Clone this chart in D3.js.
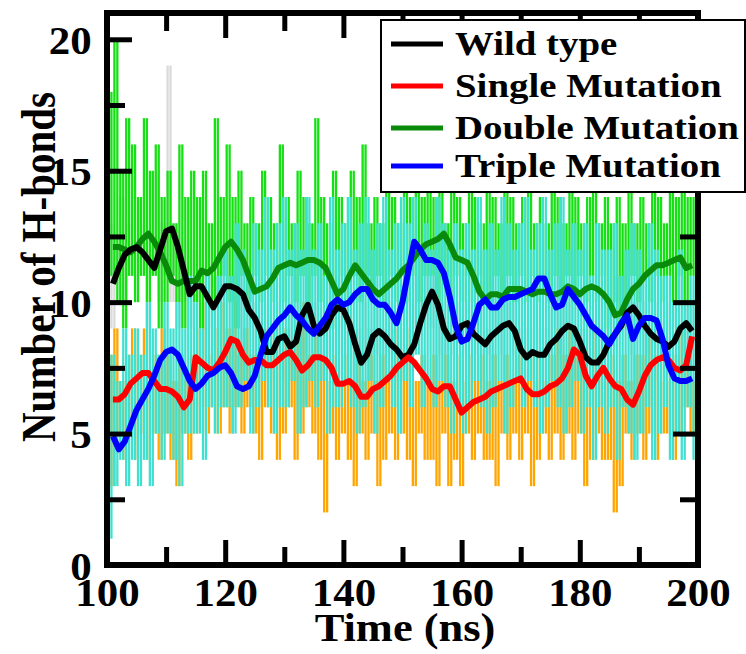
<!DOCTYPE html>
<html>
<head>
<meta charset="utf-8">
<script src="https://cdnjs.cloudflare.com/ajax/libs/d3/7.8.5/d3.min.js"></script>
<style>
  body { margin: 0; background: #fff; }
  text { font-family: "Liberation Serif", "Times New Roman", serif; font-weight: bold; fill: #000; }
</style>
</head>
<body>
<div id="chart"></div>
<script>
const W = 746, H = 654;

// axis ticks
const xMajor = [100, 120, 140, 160, 180, 200];
const xMinor = [110, 130, 150, 170, 190];
const yMajor = [0, 5, 10, 15, 20];
const yMinor = [2.5, 7.5, 12.5, 17.5];

const seriesNames = ["Wild type", "Single Mutation", "Double Mutation", "Triple Mutation"];

// raw H-bond counts, one sample every 0.5 ns starting at 100 ns
const rawStart = 100, rawStep = 0.5;
const rawWild = [
  10,13,9,12,11,14,10,13,11,12, 10,14,11,13,9,12,11,15,10,13,
  11,19,10,13,9,12,10,11,9,12, 10,12,9,11,10,13,9,11,10,12,
  9,12,10,11,9,12,8,11,9,10, 8,10,7,9,8,10,7,9,8,10,
  7,9,8,10,7,11,8,10,9,11, 8,10,7,9,8,11,9,10,8,11,
  9,10,7,9,6,9,7,10,8,9, 7,10,8,9,7,10,8,9,7,9,
  7,9,8,10,9,11,9,12,10,11, 9,11,8,10,7,9,8,10,9,10,
  8,10,9,10,7,9,8,10,7,9, 8,10,9,11,8,10,9,10,8,9,
  7,9,8,9,7,10,8,9,7,9, 8,10,9,11,8,10,9,10,8,9,
  7,9,8,9,7,9,8,10,7,9, 8,10,9,11,10,11,9,10,8,10,
  9,10,8,9,8,10,7,9,8,10, 8,10,9,11,10,11,8,10,9,10
];
const rawSingle = [
  4,8,3,9,5,7,4,8,5,9, 4,8,5,9,4,7,5,8,4,9,
  5,8,4,7,3,8,5,7,4,8, 5,9,6,10,5,8,6,9,5,10,
  6,9,5,10,6,8,5,9,6,8, 5,8,4,9,6,8,5,9,4,8,
  5,9,6,8,4,9,5,10,6,8, 5,9,4,8,2,7,5,8,4,7,
  5,8,4,7,3,8,5,7,4,8, 5,7,3,8,4,7,5,9,4,8,
  5,8,4,9,3,7,5,8,4,7, 4,8,3,7,5,8,3,7,4,8,
  3,7,5,8,4,7,5,8,4,7, 4,8,3,7,5,8,4,7,5,8,
  4,7,5,8,3,7,4,8,5,7, 4,8,5,9,4,8,5,9,4,8,
  5,8,3,7,4,9,5,8,4,7, 4,8,2,7,3,8,5,7,4,8,
  5,8,4,9,5,8,4,7,5,8, 5,7,4,8,5,9,6,8,5,7
];
const rawDouble = [
  10,18,11,20,10,15,9,17,11,16, 10,14,11,17,10,15,11,16,9,14,
  10,15,11,13,10,16,9,14,11,15, 10,14,9,15,11,13,10,17,10,14,
  11,16,10,14,9,15,11,13,10,14, 11,13,10,15,11,14,10,13,11,16,
  10,14,11,13,10,15,11,14,10,13, 11,17,10,14,11,13,9,15,10,14,
  11,13,10,15,11,14,10,16,11,13, 10,14,11,13,10,15,11,14,10,13,
  11,15,10,14,11,16,10,14,11,15, 11,14,10,16,11,13,10,15,11,14,
  10,13,11,15,10,14,11,13,10,15, 10,14,11,13,10,15,11,14,10,13,
  11,14,10,15,11,13,10,14,11,13, 10,15,11,14,10,13,11,15,10,14,
  11,13,10,14,11,15,10,13,11,14, 9,13,10,14,9,13,10,15,11,13,
  10,14,11,13,10,15,11,14,10,13, 11,15,10,14,11,16,10,14,11,14
];
const rawTriple = [
  5,1,8,3,7,4,9,3,8,4, 9,3,8,4,10,3,9,5,8,4,
  10,5,9,4,10,3,9,5,11,5, 10,5,9,4,11,6,10,5,11,6,
  12,6,11,5,13,6,12,7,11,5, 13,6,12,7,14,6,12,5,13,6,
  14,6,12,7,13,5,12,6,14,7, 12,6,13,7,11,5,14,6,12,6,
  13,7,14,6,12,5,13,6,14,7, 12,5,13,6,14,7,12,6,13,5,
  14,7,13,6,14,8,12,6,13,7, 12,6,14,7,13,6,12,5,13,6,
  12,5,13,6,12,7,14,6,12,5, 13,6,12,7,14,5,13,6,12,7,
  13,6,14,7,12,6,13,5,14,6, 12,7,13,6,14,5,12,6,13,7,
  12,5,13,6,11,4,13,6,12,5, 12,6,13,4,11,6,12,5,13,4,
  12,5,11,6,13,4,12,5,11,6, 11,4,10,5,12,4,10,6,11,4
];

// running averages, one value per ns from 101 to 199 ns
const avgStart = 101;
const avgWild = [
  10.7,11.3,11.8,12.0,12.1,11.9,11.6,11.3,12.0,12.7,
  12.8,12.1,11.2,10.3,10.6,10.6,10.2,9.8,10.2,10.6,
  10.6,10.5,10.3,9.7,9.4,8.9,8.1,8.1,8.6,8.7,
  8.3,8.5,9.5,9.9,9.1,8.8,9.0,9.5,9.8,9.7,
  9.2,8.4,7.7,8.0,8.7,8.9,8.7,8.4,8.2,7.9,
  8.0,8.4,9.2,9.9,10.4,9.9,9.0,8.6,8.7,9.1,
  9.2,8.8,8.6,8.4,8.7,8.9,9.1,9.2,8.9,8.2,
  7.9,8.1,8.0,8.0,8.4,8.6,8.9,9.1,9.0,8.5,
  7.9,7.7,7.7,8.0,8.5,8.8,9.1,9.6,9.8,9.5,
  9.1,8.8,8.6,8.5,8.3,8.5,9.0,9.2,8.9
];
const avgSingle = [
  6.3,6.3,6.5,6.9,7.1,7.3,7.3,7.0,6.7,6.7,
  6.6,6.4,6.0,6.3,7.9,7.7,7.5,7.4,7.7,8.1,
  8.6,8.5,8.0,7.7,7.8,7.8,7.6,7.6,7.8,8.0,
  8.1,7.8,7.4,7.6,7.9,7.9,7.8,7.5,6.9,6.9,
  7.0,6.8,6.4,6.4,6.7,6.8,7.0,7.2,7.5,7.7,
  7.9,7.7,7.4,7.1,6.7,6.6,6.8,6.8,6.3,5.8,
  6.0,6.2,6.3,6.4,6.6,6.7,6.8,6.9,7.0,7.1,
  6.7,6.5,6.5,6.6,6.8,6.9,7.1,7.5,8.2,8.0,
  7.2,6.8,7.2,7.5,7.1,6.8,6.7,6.3,6.1,6.6,
  7.2,7.6,7.8,7.9,7.8,7.5,7.4,7.6,8.7
];
const avgDouble = [
  12.1,12.1,12.0,11.9,12.1,12.4,12.6,12.3,11.9,11.4,
  10.8,10.7,10.8,10.8,10.8,11.2,11.1,11.3,11.7,12.1,
  12.3,12.0,11.6,11.0,10.4,10.5,10.6,10.9,11.3,11.4,
  11.5,11.4,11.5,11.6,11.6,11.5,11.3,10.8,10.3,10.5,
  11.0,11.4,11.1,10.8,10.5,10.3,10.5,10.7,10.9,11.2,
  11.4,11.7,12.0,12.2,12.3,12.4,12.6,12.2,11.7,11.6,
  11.5,11.0,10.4,10.1,10.3,10.3,10.2,10.5,10.5,10.5,
  10.4,10.3,10.4,10.4,10.3,10.3,10.4,10.6,10.5,10.3,
  10.5,10.6,10.5,10.3,10.0,9.5,9.6,10.1,10.5,10.7,
  11.0,11.2,11.4,11.4,11.5,11.6,11.7,11.3,11.4
];
const avgTriple = [
  4.9,4.4,4.7,5.3,5.9,6.3,6.7,7.2,7.8,8.1,
  8.2,8.0,7.5,7.0,6.7,6.9,7.2,7.3,7.5,7.6,
  7.3,6.8,6.7,6.8,7.2,8.0,8.7,9.0,9.3,9.5,
  9.8,9.5,9.3,9.0,8.8,9.1,9.4,9.9,10.1,9.9,
  10.0,10.3,10.5,10.5,10.1,9.9,9.9,9.6,9.2,10.0,
  11.2,12.3,12.0,11.6,11.6,11.5,11.1,10.2,9.1,8.5,
  8.6,9.2,9.9,10.1,9.8,9.8,10.1,10.2,10.2,10.3,
  10.4,10.5,10.9,10.9,10.3,9.8,9.9,10.5,10.2,9.9,
  9.5,9.1,8.9,8.7,8.4,8.8,9.2,9.5,8.6,9.1,
  9.4,9.4,9.3,8.6,7.6,7.1,7.0,7.0,7.1
];

const rawColors = ["#dadada", "#ffa500", "#14e014", "#40e0d0"];
const avgColors = ["#000000", "#ff0000", "#0a8a0a", "#0000ff"];

const x = d3.scaleLinear().domain([100, 200]).range([107, 698]);
const y = d3.scaleLinear().domain([0, 21]).range([565, 13]);

const svg = d3.select("#chart").append("svg")
  .attr("width", W)
  .attr("height", H);

svg.append("rect").attr("width", W).attr("height", H).attr("fill", "#fff");

svg.append("defs").append("clipPath").attr("id", "plotclip")
  .append("rect")
  .attr("x", x(100)).attr("y", y(21))
  .attr("width", x(200) - x(100)).attr("height", y(0) - y(21));

const plot = svg.append("g").attr("clip-path", "url(#plotclip)");

// raw data: the dense trace shows, between two samples, a vertical stroke
// from the lower to the higher count
[rawWild, rawSingle, rawDouble, rawTriple].forEach((vals, k) => {
  const segs = vals.slice(1).map((v, i) => ({
    t: rawStart + (i + 0.5) * rawStep,
    lo: Math.min(vals[i], v),
    hi: Math.max(vals[i], v)
  }));
  plot.append("g")
    .selectAll("line")
    .data(segs)
    .join("line")
    .attr("x1", d => x(d.t)).attr("x2", d => x(d.t))
    .attr("y1", d => y(d.lo)).attr("y2", d => y(d.hi))
    .attr("stroke", rawColors[k])
    .attr("stroke-width", 2.3);
});

// running averages
const avgLine = d3.line()
  .x((d, i) => x(avgStart + i))
  .y(d => y(d));

const avgOrder = [2, 0, 1, 3];
const avgData = [avgWild, avgSingle, avgDouble, avgTriple];
avgOrder.forEach(k => {
  plot.append("path")
    .attr("d", avgLine(avgData[k]))
    .attr("fill", "none")
    .attr("stroke", avgColors[k])
    .attr("stroke-width", 6)
    .attr("stroke-linejoin", "round");
});

// frame
svg.append("rect")
  .attr("x", x(100)).attr("y", y(21))
  .attr("width", x(200) - x(100)).attr("height", y(0) - y(21))
  .attr("fill", "none")
  .attr("stroke", "#000")
  .attr("stroke-width", 6);

// inward ticks on all four sides
function tickMarks(axis, pos, size) {
  svg.append("g")
    .attr("transform", pos)
    .call(axis.tickSize(-size).tickFormat(""))
    .call(g => g.select(".domain").remove())
    .selectAll("line")
    .attr("stroke", "#000")
    .attr("stroke-width", 5);
}
tickMarks(d3.axisBottom(x).tickValues(xMajor), `translate(0,${y(0)})`, 25);
tickMarks(d3.axisBottom(x).tickValues(xMinor), `translate(0,${y(0)})`, 18);
tickMarks(d3.axisTop(x).tickValues(xMajor), `translate(0,${y(21)})`, 25);
tickMarks(d3.axisTop(x).tickValues(xMinor), `translate(0,${y(21)})`, 18);
tickMarks(d3.axisLeft(y).tickValues(yMajor), `translate(${x(100)},0)`, 25);
tickMarks(d3.axisLeft(y).tickValues(yMinor), `translate(${x(100)},0)`, 18);
tickMarks(d3.axisRight(y).tickValues(yMajor), `translate(${x(200)},0)`, 25);
tickMarks(d3.axisRight(y).tickValues(yMinor), `translate(${x(200)},0)`, 18);

// tick labels
svg.append("g")
  .attr("transform", `translate(0,${y(0)})`)
  .call(d3.axisBottom(x).tickValues(xMajor).tickSize(0).tickPadding(13).tickFormat(d3.format("d")))
  .call(g => g.select(".domain").remove())
  .selectAll("text")
  .attr("font-size", 39)
  .attr("transform", "scale(1.1,1)");

svg.append("g")
  .attr("transform", `translate(${x(100)},0)`)
  .call(d3.axisLeft(y).tickValues(yMajor).tickSize(0).tickPadding(14).tickFormat(d3.format("d")))
  .call(g => g.select(".domain").remove())
  .selectAll("text")
  .attr("font-size", 39)
  .attr("dy", "0.36em")
  .attr("transform", "scale(1.1,1)");

// axis titles
svg.append("text")
  .attr("transform", "translate(405,641) scale(1.14,1)")
  .attr("text-anchor", "middle")
  .attr("font-size", 39)
  .text("Time (ns)");

svg.append("text")
  .attr("transform", "translate(55,267) scale(1.18,1) rotate(-90)")
  .attr("text-anchor", "middle")
  .attr("font-size", 41)
  .text("Number of H-bonds");

// legend
const legend = svg.append("g");
legend.append("rect")
  .attr("x", 381).attr("y", 20)
  .attr("width", 364).attr("height", 172)
  .attr("fill", "#fff")
  .attr("stroke", "#000")
  .attr("stroke-width", 2);

const legendBase = [55, 97, 139, 177];
seriesNames.forEach((name, k) => {
  legend.append("line")
    .attr("x1", 391).attr("x2", 443)
    .attr("y1", legendBase[k] - 11).attr("y2", legendBase[k] - 11)
    .attr("stroke", avgColors[k])
    .attr("stroke-width", 5);
  legend.append("text")
    .attr("transform", `translate(455,${legendBase[k]}) scale(1.16,1)`)
    .attr("font-size", 33.5)
    .text(name);
});
</script>
</body>
</html>
